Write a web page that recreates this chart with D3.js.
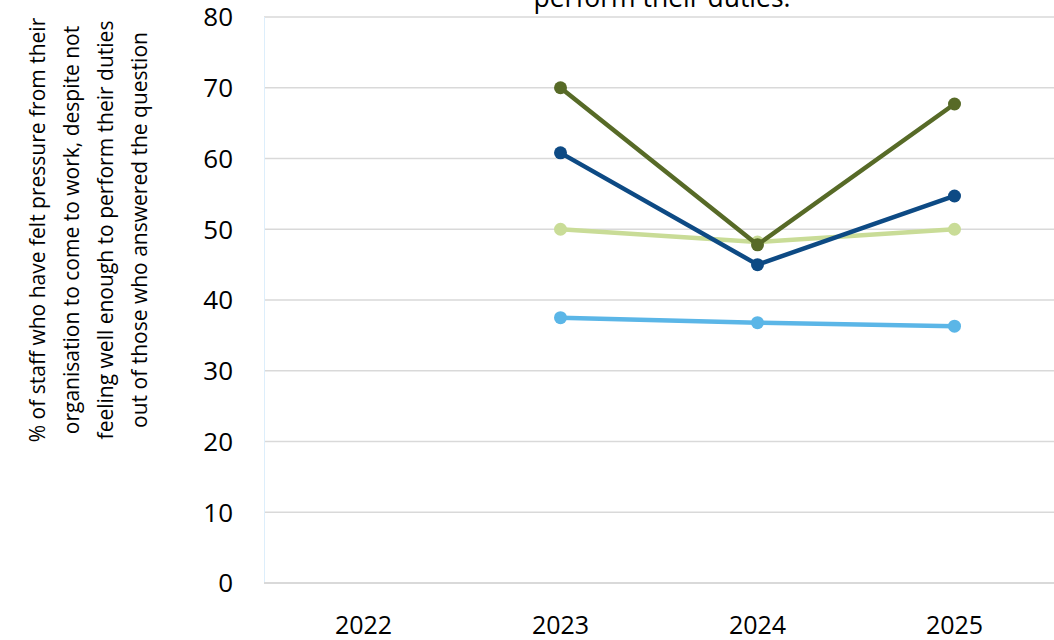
<!DOCTYPE html>
<html>
<head>
<meta charset="utf-8">
<script src="https://cdn.jsdelivr.net/npm/d3@7"></script>
<style>
  body { margin: 0; background: #fff; }
  svg { display: block; font-family: "Open Sans", "Noto Sans", sans-serif; }
</style>
</head>
<body>
<div id="chart"></div>
<script>
// Data.
const years = ["2022", "2023", "2024", "2025"];
const seriesNames = ["Series A", "Series B", "Series C", "Series D"];
const seriesA = [null, 50.0, 48.2, 50.0];
const seriesB = [null, 37.5, 36.8, 36.3];
const seriesC = [null, 60.8, 45.0, 54.7];
const seriesD = [null, 70.0, 47.8, 67.7];
const yTicks = [0, 10, 20, 30, 40, 50, 60, 70, 80];
const titleLines = ["perform their duties."];
const yTitleLines = [
  "% of staff who have felt pressure from their",
  "organisation to come to work, despite not",
  "feeling well enough to perform their duties",
  "out of those who answered the question"
];

const colors = ["#c9dc97", "#5bb6e7", "#0d4a84", "#576a27"];
const allSeries = [seriesA, seriesB, seriesC, seriesD];

const width = 1054;
const height = 640;
const margin = { top: 17, right: 0, bottom: 57, left: 264 };

const svg = d3.select("#chart")
  .append("svg")
  .attr("width", width)
  .attr("height", height);

// Scales.
const x = d3.scaleBand()
  .domain(years)
  .range([margin.left + 1, width - 1]);

const y = d3.scaleLinear()
  .domain([0, 80])
  .range([height - margin.bottom, margin.top]);

// Gridlines.
svg.append("g")
  .selectAll("line")
  .data(yTicks.filter((d) => d > 0))
  .join("line")
  .attr("x1", margin.left)
  .attr("x2", width)
  .attr("y1", (d) => y(d))
  .attr("y2", (d) => y(d))
  .attr("stroke", "#d9d9d9")
  .attr("stroke-width", 1.5);

// Faint left edge of the plot area.
svg.append("line")
  .attr("x1", margin.left + 0.5)
  .attr("x2", margin.left + 0.5)
  .attr("y1", y(80))
  .attr("y2", y(0))
  .attr("stroke", "#ddeefb")
  .attr("stroke-width", 1);

// Baseline.
svg.append("line")
  .attr("x1", margin.left)
  .attr("x2", width)
  .attr("y1", y(0))
  .attr("y2", y(0))
  .attr("stroke", "#d9d9d9")
  .attr("stroke-width", 2);

// Y axis tick labels.
svg.append("g")
  .selectAll("text")
  .data(yTicks)
  .join("text")
  .attr("x", 233)
  .attr("y", (d) => y(d))
  .attr("dy", "0.36em")
  .attr("text-anchor", "end")
  .attr("font-size", 26)
  .attr("fill", "#000")
  .text((d) => d);

// X axis labels.
svg.append("g")
  .selectAll("text")
  .data(years)
  .join("text")
  .attr("x", (d) => x(d) + x.bandwidth() / 2)
  .attr("y", 634)
  .attr("text-anchor", "middle")
  .attr("font-size", 25)
  .attr("fill", "#000")
  .text((d) => d);

// Y axis title.
const yTitle = svg.append("text")
  .attr("transform", "translate(0,230) rotate(-90)")
  .attr("text-anchor", "middle")
  .attr("font-size", 21)
  .attr("fill", "#000");
yTitle.selectAll("tspan")
  .data(yTitleLines)
  .join("tspan")
  .attr("x", 0)
  .attr("y", (d, i) => 45 + i * 34)
  .text((d) => d);

// Chart title (only its last line is visible).
svg.append("g")
  .selectAll("text")
  .data(titleLines)
  .join("text")
  .attr("x", 662)
  .attr("y", 7)
  .attr("text-anchor", "middle")
  .attr("font-size", 26.5)
  .attr("fill", "#000")
  .text((d) => d);

// Lines and markers.
const line = d3.line()
  .defined((d) => d != null)
  .x((d, i) => x(years[i]) + x.bandwidth() / 2)
  .y((d) => y(d));

const groups = svg.append("g")
  .selectAll("g")
  .data(allSeries)
  .join("g")
  .attr("data-name", (d, i) => seriesNames[i]);

groups.append("path")
  .attr("d", (d) => line(d))
  .attr("fill", "none")
  .attr("stroke", (d, i) => colors[i])
  .attr("stroke-width", 4.5)
  .attr("stroke-linejoin", "round");

groups.each(function (values, i) {
  d3.select(this)
    .selectAll("circle")
    .data(values.map((v, j) => ({ v, j })).filter((d) => d.v != null))
    .join("circle")
    .attr("cx", (d) => x(years[d.j]) + x.bandwidth() / 2)
    .attr("cy", (d) => y(d.v))
    .attr("r", 6.5)
    .attr("fill", colors[i]);
});
</script>
</body>
</html>
